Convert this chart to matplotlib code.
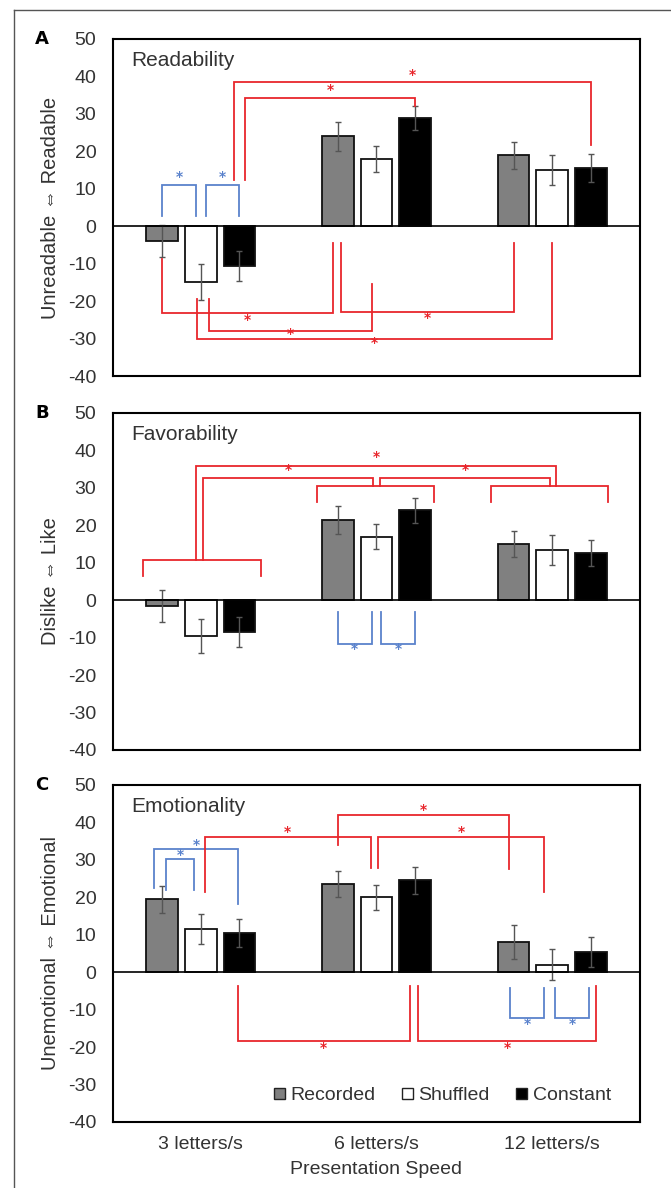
import matplotlib
matplotlib.use("Agg")
import matplotlib.pyplot as plt
from matplotlib.patches import Patch
from matplotlib.lines import Line2D
import numpy as np

plt.rcParams["font.family"] = ["Liberation Sans", "DejaVu Sans"]
plt.rcParams["axes.unicode_minus"] = False

# ==============================
# DATA
# ==============================
speeds = ["3 letters/s", "6 letters/s", "12 letters/s"]
conditions = ["Recorded", "Shuffled", "Constant"]

readability = [[-4, 24, 19], [-15, 18, 15], [-10.5, 29, 15.5]]
readability_err = [[4.2, 3.8, 3.6], [4.8, 3.5, 4.0], [4.0, 3.2, 3.8]]

favorability = [[-1.5, 21.5, 15], [-9.5, 17, 13.5], [-8.5, 24, 12.5]]
favorability_err = [[4.3, 3.7, 3.6], [4.5, 3.4, 4.0], [4.0, 3.4, 3.5]]

emotionality = [[19.5, 23.5, 8], [11.5, 20, 2], [10.5, 24.5, 5.5]]
emotionality_err = [[3.6, 3.5, 4.6], [4.0, 3.3, 4.2], [3.8, 3.6, 4.0]]

titles = ["Readability", "Favorability", "Emotionality"]
ylabels = ["Unreadable \u21d4 Readable", "Dislike \u21d4 Like", "Unemotional \u21d4 Emotional"]
letters = ["A", "B", "C"]

# significance brackets: (group, series, dx) for both ends, leg end y, bracket y, star y, colour
RED = "#e8262c"
BLUE = "#5a82cc"
brackets_a = [
    ((0, 0, 0.0), 2.7, (0, 1, -0.03), 2.7, 11, 13.2, BLUE),
    ((0, 1, 0.03), 2.7, (0, 2, 0.0), 2.7, 11, 13.2, BLUE),
    ((0, 2, -0.03), 12.4, (2, 2, 0.0), 21.7, 38.5, 40.5, RED),
    ((0, 2, 0.03), 12.4, (1, 2, 0.0), 32, 34.3, 36.3, RED),
    ((0, 0, 0.0), -8.8, (1, 0, -0.03), -4.4, -23.2, -25.0, RED),
    ((1, 0, 0.02), -4.4, (2, 0, 0.0), -4.4, -23.0, -24.6, RED),
    ((0, 1, 0.045), -19.5, (1, 1, -0.027), -15.5, -28.0, -28.9, RED),
    ((0, 1, -0.02), -19.5, (2, 1, 0.0), -4.4, -30.1, -31.2, RED),
]
brackets_b = [
    ((0, 0, -0.11), 6.4, (0, 2, 0.12), 6.4, 10.7, None, RED),
    ((1, 0, -0.12), 26.2, (1, 2, 0.11), 26.2, 30.4, None, RED),
    ((2, 0, -0.13), 26.2, (2, 2, 0.10), 26.2, 30.4, None, RED),
    ((0, 1, -0.027), 10.7, (2, 1, 0.022), 30.4, 35.9, 38.3, RED),
    ((0, 1, 0.015), 10.7, (1, 1, -0.02), 30.4, 32.5, 34.7, RED),
    ((1, 1, 0.022), 30.4, (2, 1, -0.015), 30.4, 32.5, 34.7, RED),
    ((1, 0, 0.0), -3.2, (1, 1, -0.027), -3.2, -11.7, -13.0, BLUE),
    ((1, 1, 0.027), -3.2, (1, 2, 0.0), -3.2, -11.7, -13.0, BLUE),
]
brackets_c = [
    ((0, 0, -0.044), 22.4, (0, 2, -0.01), 18.2, 32.8, 34.0, BLUE),
    ((0, 0, 0.024), 22.0, (0, 1, -0.037), 22.0, 30.2, 31.3, BLUE),
    ((0, 1, 0.022), 21.5, (1, 1, -0.034), 27.8, 36.0, 37.4, RED),
    ((1, 1, 0.01), 27.8, (2, 1, -0.044), 21.4, 36.0, 37.4, RED),
    ((1, 0, 0.0), 33.9, (2, 0, -0.024), 27.5, 42.0, 43.4, RED),
    ((0, 2, -0.01), -3.8, (1, 2, -0.032), -3.8, -18.4, -20.2, RED),
    ((1, 2, 0.017), -3.8, (2, 2, 0.029), -3.8, -18.4, -20.2, RED),
    ((2, 0, -0.019), -4.1, (2, 1, -0.044), -4.1, -12.3, -13.9, BLUE),
    ((2, 1, 0.015), -4.1, (2, 2, -0.01), -4.1, -12.3, -13.9, BLUE),
]

# ==============================
# STYLE
# ==============================
BAR_COLORS = ["#808080", "#ffffff", "#000000"]
BAR_WIDTH = 0.18
BAR_STEP = 0.22
TEXT_COLOR = "#333333"


def bar_x(g, s, dx=0.0):
    return g + (s - 1) * BAR_STEP + dx


def draw_bracket(ax, spec):
    (ga, sa, dxa), ya, (gb, sb, dxb), yb, level, star_y, color = spec
    xa = bar_x(ga, sa, dxa)
    xb = bar_x(gb, sb, dxb)
    ax.plot([xa, xa, xb, xb], [ya, level, level, yb], color=color, lw=1.3,
            solid_joinstyle="miter", zorder=4)
    if star_y is not None:
        ax.text((xa + xb) / 2, star_y, "*", color=color, fontsize=10,
                fontweight="bold", ha="center", va="center",
                family="DejaVu Sans", zorder=5)


def draw_panel(ax, values, errors, title, ylabel, letter, brackets):
    x = np.arange(len(speeds))
    for s, cond in enumerate(conditions):
        ax.bar(x + (s - 1) * BAR_STEP, values[s], BAR_WIDTH, color=BAR_COLORS[s],
               edgecolor="#111111", linewidth=1.3, zorder=2, label=cond)
        ax.errorbar(x + (s - 1) * BAR_STEP, values[s], yerr=errors[s], fmt="none",
                    ecolor="#555555", elinewidth=1.0, capsize=2, capthick=1.0, zorder=3)
    ax.axhline(0, color="black", lw=1.2, zorder=3)
    for spec in brackets:
        draw_bracket(ax, spec)

    ax.set_xlim(-0.5, 2.5)
    ax.set_ylim(-40, 50)
    ax.set_yticks(np.arange(-40, 51, 10))
    ax.tick_params(axis="y", length=0, pad=12, labelsize=14, labelcolor=TEXT_COLOR)
    ax.tick_params(axis="x", length=0, pad=10, labelsize=14, labelcolor=TEXT_COLOR)
    ax.set_xticks(x)
    ax.set_xticklabels([])
    for sp in ax.spines.values():
        sp.set_linewidth(1.5)
        sp.set_color("black")
    ax.set_ylabel(ylabel, fontsize=14.5, color=TEXT_COLOR, labelpad=6)
    ax.text(0.035, 0.965, title, transform=ax.transAxes, fontsize=15,
            color=TEXT_COLOR, ha="left", va="top")
    ax.text(-0.135, 1.0, letter, transform=ax.transAxes, fontsize=13,
            fontweight="bold", ha="center", va="center", family="DejaVu Sans")


fig = plt.figure(figsize=(6.71, 11.88), dpi=100)

left, width, height = 0.1684, 0.7854, 0.2837
ax_a = fig.add_axes([left, 0.6835, width, height])
ax_b = fig.add_axes([left, 0.3687, width, height])
ax_c = fig.add_axes([left, 0.0556, width, height])

draw_panel(ax_a, readability, readability_err, titles[0], ylabels[0], letters[0], brackets_a)
draw_panel(ax_b, favorability, favorability_err, titles[1], ylabels[1], letters[1], brackets_b)
draw_panel(ax_c, emotionality, emotionality_err, titles[2], ylabels[2], letters[2], brackets_c)

ax_c.set_xticklabels(speeds)
ax_c.set_xlabel("Presentation Speed", fontsize=14, color=TEXT_COLOR, labelpad=6)

handles = [Patch(facecolor=c, edgecolor="#222222", linewidth=1.0) for c in BAR_COLORS]
ax_c.legend(handles, conditions, loc="lower right", bbox_to_anchor=(0.978, 0.0),
            ncol=3, frameon=False, fontsize=14, handlelength=0.55, handleheight=0.55,
            handletextpad=0.3, columnspacing=1.35, labelcolor=TEXT_COLOR)

# outer frame (left and top edges of the figure box)
fig.add_artist(Line2D([14 / 671, 14 / 671], [0, 1 - 10 / 1188], color="#555555", lw=1.0))
fig.add_artist(Line2D([14 / 671, 1], [1 - 10 / 1188, 1 - 10 / 1188], color="#555555", lw=1.0))

fig.savefig("out.png", dpi=100)
